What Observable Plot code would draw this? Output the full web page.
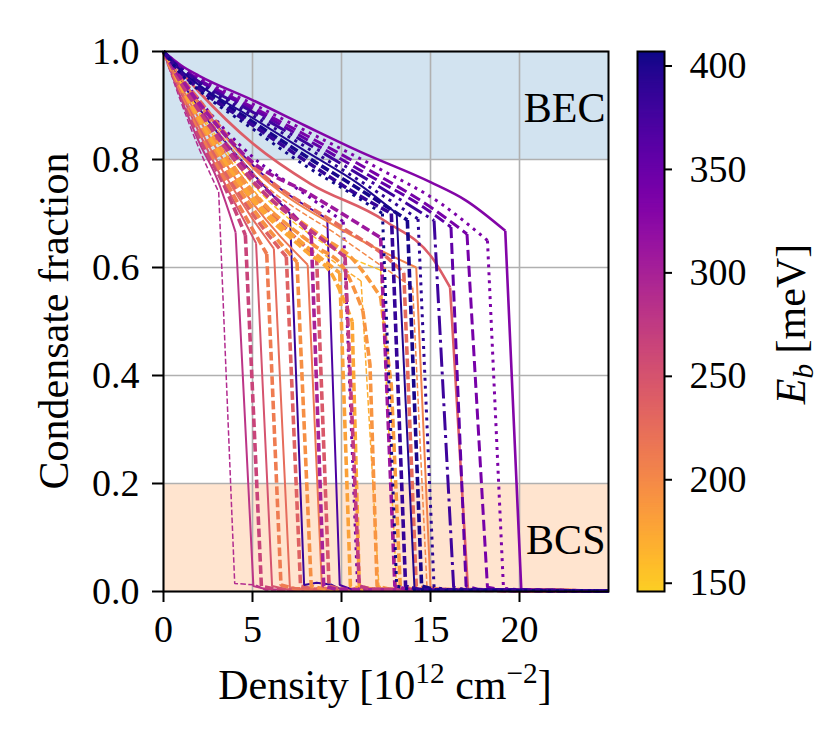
<!DOCTYPE html>
<html>
<head>
<meta charset="utf-8">
<script src="https://cdn.jsdelivr.net/npm/d3@7"></script>
<script src="https://cdn.jsdelivr.net/npm/@observablehq/plot@0.6"></script>
<style>
  body { margin: 0; background: #fff; }
  #wrap { position: relative; width: 830px; height: 747px; }
  #wrap svg { position: absolute; left: 0; top: 0; max-width: none; }
</style>
</head>
<body>
<div id="wrap"></div>
<script>
// ---------------- data ----------------
const xDomain = [0, 25];
const yDomain = [0, 1];
const xTicks = [0, 5, 10, 15, 20];
const yTicks = [0, 0.2, 0.4, 0.6, 0.8, 1.0];
const ebDomain = [146, 407];
const cbTicks = [150, 200, 250, 300, 350, 400];
const regions = [
  { name: "BEC", y1: 0.8, y2: 1.0 },
  { name: "BCS", y1: 0.0, y2: 0.2 }
];

// binding energy (meV) of each curve
const curveEb = [
  290, 280, 265, 250, 210, 225, 235, 385, 195, 215, 245, 370, 180, 345, 170, 155, 185, 200, 205, 225, 190, 175, 300, 275, 310, 240,
  330, 335, 340, 355, 380, 392, 398, 402, 386, 405
];
// line variant of each curve
const curveKind = [
  "dashedThin", "solidThin", "dashed", "solidThin", "dashed", "solidThin", "dashed", "solidThin", "dashed", "solidThin", "dashed", "solidThin", "dashed", "dotted", "dashedThin", "dashedThin", "dashed", "dashedThin", "solidThin", "dashed", "dashed", "dashed", "dashed", "dashed", "dashed", "solid",
  "solid", "dotted", "dashedLong", "dashedLong", "dashdot", "dotted", "solidThin", "dashed", "dashed", "dotted"
];
// [density, condensate fraction] samples of each curve
const curvePoints = [
  [[0,1],[1,.905],[2,.82],[3.1,.74],[4.0,.015],[5.2,.012],[5.7,.003],[25,.001]],
  [[0,1],[1,.912],[2,.832],[3,.765],[4.05,.665],[5.05,.01],[5.8,.004],[25,.001]],
  [[0,1],[1,.918],[2,.842],[3.5,.745],[4.6,.66],[5.5,.01],[6.3,.004],[25,.001]],
  [[0,1],[1,.922],[2,.85],[4,.72],[5.2,.645],[6.1,.01],[6.9,.004],[25,.001]],
  [[0,1],[1,.925],[2,.855],[4,.73],[5.8,.625],[6.6,.012],[7.4,.005],[25,.001]],
  [[0,1],[1,.928],[2,.86],[5,.69],[6.2,.635],[7.1,.008],[7.8,.004],[25,.001]],
  [[0,1],[1,.93],[2,.865],[5,.70],[6.9,.62],[7.7,.01],[8.5,.004],[25,.001]],
  [[0,1],[1,.945],[2,.895],[5,.775],[7.1,.70],[7.9,.012],[8.6,.016],[9.4,.013],[10,.003],[25,.001]],
  [[0,1],[1,.932],[2,.87],[5,.71],[7.5,.61],[8.3,.01],[9.1,.004],[25,.001]],
  [[0,1],[1,.935],[2,.875],[5,.72],[8.1,.605],[8.9,.008],[9.6,.004],[25,.001]],
  [[0,1],[1,.94],[2,.885],[5,.74],[8.6,.62],[9.3,.01],[10,.004],[25,.001]],
  [[0,1],[1,.95],[2,.905],[5,.79],[9.2,.69],[9.9,.012],[10.6,.004],[25,.001]],
  [[0,1],[1,.936],[2,.878],[5,.73],[8,.64],[9.9,.59],[10.5,.01],[11.2,.004],[25,.001]],
  [[0,1],[1,.952],[2,.91],[5,.805],[8,.735],[10.1,.685],[10.9,.01],[11.6,.004],[25,.001]],
  [[0,1],[1,.94],[2,.885],[5,.745],[9,.625],[11.1,.575],[12.1,.01],[12.8,.004],[25,.001]],
  [[0,1],[1,.942],[2,.89],[5,.755],[9,.645],[12.2,.595],[13.1,.008],[13.8,.004],[25,.001]],
  [[0,1],[1,.944],[2,.893],[5,.76],[9,.655],[10.5,.62],[12.2,.545],[12.8,.38],[13.3,.01],[14,.004],[25,.001]],
  [[0,1],[1,.948],[2,.9],[5,.775],[10,.655],[14.0,.563],[14.8,.01],[15.5,.004],[25,.001]],
  [[0,1],[1,.95],[2,.905],[5,.785],[10,.67],[14.2,.60],[15.0,.008],[15.7,.004],[25,.001]],
  [[0,1],[1,.952],[2,.91],[5,.79],[10,.675],[12.5,.62],[13.5,.59],[14.2,.01],[15,.004],[25,.001]],
  [[0,1],[1,.938],[2,.88],[5,.74],[8.5,.64],[10.1,.60],[11.2,.52],[11.6,.42],[12.0,.01],[12.7,.004],[25,.001]],
  [[0,1],[1,.935],[2,.875],[5,.725],[8,.63],[9.5,.585],[10.6,.50],[11.0,.01],[11.7,.004],[25,.001]],
  [[0,1],[1,.945],[2,.895],[5,.77],[7.5,.69],[8.3,.66],[9.0,.01],[9.7,.004],[25,.001]],
  [[0,1],[1,.94],[2,.89],[5,.76],[9,.65],[10.2,.62],[11.0,.01],[11.7,.004],[25,.001]],
  [[0,1],[1,.95],[2,.905],[5,.795],[8,.74],[11,.68],[12.2,.655],[13.0,.01],[13.7,.004],[25,.001]],
  [[0,1],[1,.962],[2,.925],[5,.83],[8.26,.755],[12.4,.687],[15.2,.613],[16.1,.563],[17.1,.005],[18,.003],[25,.001]],
  [[0,1],[1,.974],[2,.955],[5,.91],[8,.862],[11,.815],[15,.758],[17,.724],[19.2,.668],[20.1,.004],[21,.002],[25,.001]],
  [[0,1],[1,.972],[2,.951],[5,.903],[8,.853],[12,.785],[15.6,.718],[18.2,.65],[19.1,.006],[20,.003],[25,.001]],
  [[0,1],[1,.97],[2,.948],[5,.897],[8,.845],[12,.772],[15,.712],[17.05,.662],[18.2,.008],[19,.003],[25,.001]],
  [[0,1],[1,.969],[2,.946],[5,.893],[8,.838],[12,.762],[14.5,.714],[16.15,.675],[17.0,.01],[17.7,.004],[25,.001]],
  [[0,1],[1,.968],[2,.944],[5,.888],[8,.831],[12,.752],[15.2,.687],[16.3,.008],[17,.003],[25,.001]],
  [[0,1],[1,.966],[2,.941],[5,.882],[8,.823],[12,.74],[14.3,.69],[15.2,.008],[16,.003],[25,.001]],
  [[0,1],[1,.964],[2,.938],[5,.877],[8,.815],[11,.754],[13.1,.70],[14.1,.006],[15,.003],[25,.001]],
  [[0,1],[1,.962],[2,.935],[5,.87],[8,.806],[11,.745],[13.7,.688],[14.5,.01],[15.3,.003],[25,.001]],
  [[0,1],[1,.96],[2,.931],[5,.864],[8,.797],[11,.733],[12.8,.70],[13.6,.01],[14.4,.003],[25,.001]],
  [[0,1],[1,.958],[2,.928],[5,.857],[8,.788],[10.5,.738],[12.3,.70],[13.1,.01],[13.9,.003],[25,.001]]
];

// ---------------- styles ----------------
const FONT = "'Liberation Serif', 'DejaVu Serif', serif";
const FS = 38;      // tick labels
const FL = 42;      // axis titles / annotations
const regionFill = { BEC: "#d2e3f0", BCS: "#ffe4cf" };
const kindStyle = {
  solid:      { w: 2.6, dash: null },
  solidThin:  { w: 2.0, dash: null },
  dashed:     { w: 3.6, dash: [2.4, 1.0] },
  dashedLong: { w: 3.0, dash: [3.7, 1.6] },
  dashedThin: { w: 1.5, dash: [3.7, 1.6] },
  dotted:     { w: 3.0, dash: [1, 1.65] },
  dashdot:    { w: 3.0, dash: [6.4, 1.6, 1, 1.6] }
};
const colorScale = {
  type: "linear",
  domain: ebDomain,
  interpolate: t => d3.interpolatePlasma(0.9 * (1 - t))
};

// ---------------- main plot ----------------
// smooth branch up to the collapse point, straight segments after it
const lineMarks = curvePoints.flatMap((pts, i) => {
  const st = kindStyle[curveKind[i]];
  const rows = pts.map(([n, f]) => ({ n, f, eb: curveEb[i] }));
  let k = rows.length - 1;
  for (let j = 0; j < rows.length - 1; j++) {
    const s = (rows[j + 1].f - rows[j].f) / (rows[j + 1].n - rows[j].n);
    if (s < -0.2) { k = j; break; }
  }
  const opts = {
    x: "n", y: "f", stroke: "eb", z: null,
    strokeWidth: st.w,
    strokeDasharray: st.dash ? st.dash.map(v => v * st.w).join(",") : undefined,
    strokeLinecap: "butt",
    strokeLinejoin: "miter"
  };
  return [
    Plot.line(rows.slice(0, k + 1), { ...opts, curve: "monotone-x" }),
    Plot.line(rows.slice(k), { ...opts, curve: "linear" })
  ];
});

const main = Plot.plot({
  width: 830, height: 747,
  marginLeft: 163, marginRight: 222, marginTop: 51, marginBottom: 156,
  style: { fontFamily: FONT, fontSize: FS + "px", background: "white", color: "black", overflow: "visible" },
  x: { domain: xDomain },
  y: { domain: yDomain },
  color: colorScale,
  marks: [
    ...regions.map(r => Plot.rect([r], { x1: () => xDomain[0], x2: () => xDomain[1], y1: "y1", y2: "y2", fill: regionFill[r.name] })),
    Plot.gridX(xTicks, { stroke: "#b0b0b0", strokeOpacity: 1, strokeWidth: 1.6 }),
    Plot.gridY(yTicks, { stroke: "#b0b0b0", strokeOpacity: 1, strokeWidth: 1.6 }),
    Plot.text(regions, { x: () => xDomain[1], y: d => (d.y1 + d.y2) / 2, text: "name", textAnchor: "end", dx: -3, dy: 3, fontSize: FL, fill: "black" }),
    ...lineMarks,
    Plot.frame({ stroke: "black", strokeWidth: 2 }),
    Plot.axisX(xTicks, { tickSize: 11, tickPadding: 13, strokeWidth: 2, fontSize: FS, label: null, tickFormat: d => String(d) }),
    Plot.axisY(yTicks, { tickSize: 11, tickPadding: 13, strokeWidth: 2, fontSize: FS, label: null, tickFormat: d => d.toFixed(1) })
  ]
});

// axis titles
const ms = d3.select(main);
ms.append("text")
  .attr("transform", "translate(68,321) rotate(-90)")
  .attr("text-anchor", "middle")
  .attr("font-family", FONT).attr("font-size", FL).attr("fill", "black")
  .text("Condensate fraction");
const xl = ms.append("text")
  .attr("x", 385).attr("y", 699)
  .attr("text-anchor", "middle")
  .attr("font-family", FONT).attr("font-size", FL).attr("fill", "black");
xl.append("tspan").text("Density [10");
xl.append("tspan").attr("font-size", FL * 0.7).attr("dy", -16).text("12");
xl.append("tspan").attr("dy", 16).text(" cm");
xl.append("tspan").attr("font-size", FL * 0.7).attr("dy", -16).text("\u22122");
xl.append("tspan").attr("dy", 16).text("]");

// ---------------- colorbar ----------------
const cbValues = d3.range(ebDomain[0], ebDomain[1], 0.5);
const cbar = Plot.plot({
  width: 830, height: 747,
  marginLeft: 637, marginRight: 166, marginTop: 51, marginBottom: 156,
  style: { fontFamily: FONT, fontSize: FS + "px", background: "transparent", color: "black", overflow: "visible" },
  x: { domain: [0, 1], axis: null },
  y: { domain: ebDomain },
  color: colorScale,
  marks: [
    Plot.rect(cbValues, { x1: () => 0, x2: () => 1, y1: d => d, y2: d => Math.min(d + 1, ebDomain[1]), fill: d => d }),
    Plot.frame({ stroke: "black", strokeWidth: 2 }),
    Plot.axisY(cbTicks, { anchor: "right", tickSize: 7, tickPadding: 18, strokeWidth: 2, fontSize: FS, label: null })
  ]
});
const cs = d3.select(cbar);
const cl = cs.append("text")
  .attr("transform", "translate(805,324) rotate(-90)")
  .attr("text-anchor", "middle")
  .attr("font-family", FONT).attr("font-size", FL).attr("fill", "black");
cl.append("tspan").attr("font-style", "italic").text("E");
cl.append("tspan").attr("font-style", "italic").attr("font-size", FL * 0.7).attr("dy", 8).text("b");
cl.append("tspan").attr("dy", -8).text(" [meV]");

const wrap = document.getElementById("wrap");
wrap.appendChild(main);
wrap.appendChild(cbar);
</script>
</body>
</html>
